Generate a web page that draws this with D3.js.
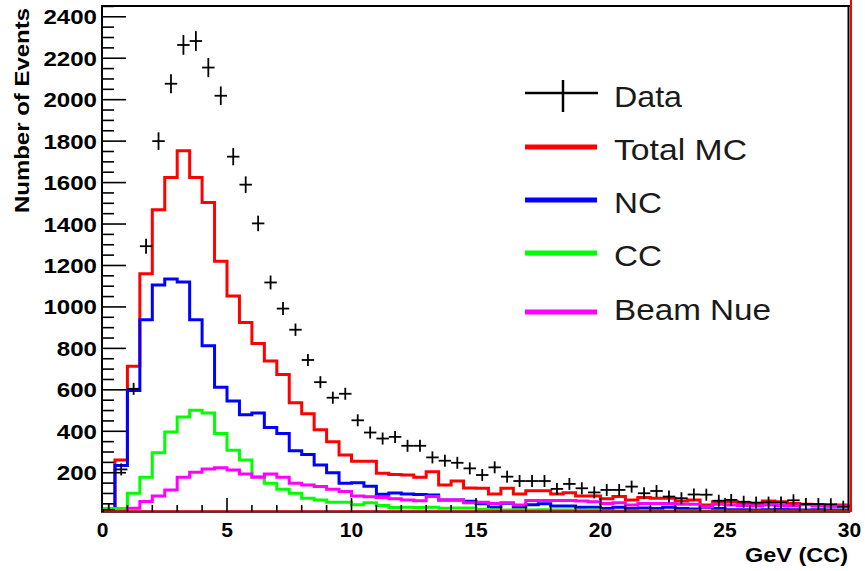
<!DOCTYPE html>
<html><head><meta charset="utf-8">
<script src="https://cdn.jsdelivr.net/npm/d3@7"></script>
<style>html,body{margin:0;padding:0;background:#fff;}svg{display:block;}</style>
</head><body>
<script>
// ---- data (60 bins of 0.5 GeV from 0 to 30) ----
const binWidth = 0.5;
const dataCounts = [20,216,605,1293,1800,2077,2264,2283,2155,2019,1725,1590,1403,1118,992,890,744,637,562,581,453,394,365,373,330,330,274,258,248,221,189,226,181,160,160,160,122,146,125,105,117,117,133,101,112,85,77,95,94,65,69,60,56,56,56,67,49,49,48,36];
const totalMC = [20,261,714,1160,1469,1624,1754,1624,1504,1221,1053,925,824,739,674,538,485,408,349,285,255,255,197,192,189,178,205,141,160,126,125,98,125,97,113,113,97,104,88,88,75,85,69,81,77,77,64,69,44,60,60,56,52,64,60,52,48,44,40,44];
const ncMC = [15,235,597,938,1106,1135,1120,938,813,613,546,480,488,418,389,306,288,237,200,149,152,135,96,102,98,95,93,69,69,62,50,34,53,34,45,50,40,40,33,33,28,33,28,30,28,33,28,25,33,28,22,22,20,22,24,22,20,22,20,20];
const ccMC = [28,28,101,178,296,397,469,501,488,389,309,261,181,149,120,101,77,69,58,58,45,55,42,32,34,32,33,29,30,30,24,21,20,22,20,21,20,20,19,20,15,15,15,15,15,15,15,15,15,15,14,14,14,14,14,14,14,14,14,14];
const beamNue = [12,12,29,61,88,117,178,202,218,224,213,194,178,194,178,149,141,133,120,109,88,84,80,74,69,65,85,69,69,55,58,52,55,44,66,66,66,66,64,60,52,55,44,52,52,52,48,48,36,48,44,42,40,44,42,40,46,40,38,40];
const yTickValues = [200,400,600,800,1000,1200,1400,1600,1800,2000,2200,2400];
const xTickValues = [0,5,10,15,20,25,30];
const legendLabels = ["Data","Total MC","NC","CC","Beam Nue"];

const W = 865, H = 571;
const svg = d3.select("body").append("svg").attr("width", W).attr("height", H);

const x = d3.scaleLinear().domain([0, 30]).range([102.5, 849.5]);
const y = d3.scaleLinear().domain([12, 2452]).range([511.7, 6]).clamp(true);

const FONT = "'Liberation Sans', Arial, Helvetica, sans-serif";

// clip
svg.append("defs").append("clipPath").attr("id","plot")
  .append("rect").attr("x",102).attr("y",6).attr("width",748).attr("height",506);

// ---- histograms ----
function stepPts(arr){
  const pts = arr.map((v,i)=>[i*binWidth, v]);
  pts.push([arr.length*binWidth, arr[arr.length-1]]);
  return pts;
}
const line = d3.line().x(d=>x(d[0])).y(d=>y(d[1])).curve(d3.curveStepAfter);
const series = [
  {vals: totalMC, color: "#ff0000"},
  {vals: ncMC, color: "#0000ff"},
  {vals: ccMC, color: "#00ff00"},
  {vals: beamNue, color: "#ff00ff"}
];
const g = svg.append("g").attr("clip-path","url(#plot)");
series.forEach(s=>{
  g.append("path").attr("d", line(stepPts(s.vals)))
    .attr("fill","none").attr("stroke", s.color).attr("stroke-width",3)
    .attr("stroke-linejoin","miter");
});

// ---- data crosses ----
const dg = g.append("g").attr("stroke","#000").attr("stroke-width",1.8);
dataCounts.forEach((v,i)=>{
  const c = (i+0.5)*binWidth;
  const cy = y(v), cx = x(c);
  const e = Math.sqrt(v);
  const top = Math.min(y(v+e), cy-6), bot = Math.max(y(v-e), cy+6);
  dg.append("line").attr("x1", x(c-binWidth/2)).attr("x2", x(c+binWidth/2)).attr("y1",cy).attr("y2",cy);
  dg.append("line").attr("x1", cx).attr("x2", cx).attr("y1", top).attr("y2", bot);
});

// ---- frame & axes ----
const ax = svg.append("g").attr("stroke","#000").attr("stroke-width",2);
ax.append("line").attr("x1",102).attr("x2",102).attr("y1",6).attr("y2",512);
ax.append("line").attr("x1",101).attr("x2",850).attr("y1",6).attr("y2",6);
ax.append("line").attr("x1",848.5).attr("x2",848.5).attr("y1",6).attr("y2",512);
ax.append("line").attr("x1",101).attr("x2",850).attr("y1",511.7).attr("y2",511.7);
svg.append("line").attr("x1",104).attr("x2",851).attr("y1",511.2).attr("y2",511.2)
  .attr("stroke","#d00000").attr("stroke-width",2);
svg.append("line").attr("x1",851).attr("x2",851).attr("y1",0).attr("y2",512)
  .attr("stroke","#ff0000").attr("stroke-width",2);

// y ticks (inside, pointing right)
const yt = svg.append("g").attr("stroke","#000").attr("stroke-width",1.6);
d3.range(50, 2451, 50).forEach(v=>{
  const major = v % 200 === 0;
  yt.append("line").attr("x1",102).attr("x2", major ? 126 : 114).attr("y1",y(v)).attr("y2",y(v));
});
// x ticks (inside, pointing up)
d3.range(1, 30, 1).forEach(v=>{
  const major = v % 5 === 0;
  yt.append("line").attr("x1",x(v)).attr("x2",x(v)).attr("y1",511.7).attr("y2", major ? 498 : 505);
});

// y tick labels
svg.append("g").selectAll("text").data(yTickValues).join("text")
  .attr("x",97).attr("y",d=>y(d)+7.5).attr("text-anchor","end")
  .attr("font-family",FONT).attr("font-weight","bold").attr("font-size",21)
  .attr("textLength",d=>String(d).length*13.4).attr("lengthAdjust","spacingAndGlyphs")
  .attr("fill","#000").text(d=>d);
// x tick labels
svg.append("g").selectAll("text").data(xTickValues).join("text")
  .attr("x",d=>x(d)).attr("y",537).attr("text-anchor","middle")
  .attr("font-family",FONT).attr("font-weight","bold").attr("font-size",21)
  .attr("fill","#000").text(d=>d);

// axis titles
svg.append("text").attr("transform","translate(29,213) rotate(-90)")
  .attr("font-family",FONT).attr("font-weight","bold").attr("font-size",21)
  .attr("textLength",205).attr("lengthAdjust","spacingAndGlyphs").attr("fill","#000")
  .text("Number of Events");
svg.append("text").attr("x",745).attr("y",562)
  .attr("font-family",FONT).attr("font-weight","bold").attr("font-size",21)
  .attr("textLength",103).attr("lengthAdjust","spacingAndGlyphs").attr("fill","#000")
  .text("GeV (CC)");

// ---- legend ----
const legColors = ["#000","#ff0000","#0000ff","#00ff00","#ff00ff"];
const legLineY = [93,147,200,253,312];
const legTextY = [107,160,213,266,320];
const legTextW = [68,133,48,48,157];
const lg = svg.append("g");
legendLabels.forEach((lab,i)=>{
  if(i===0){
    lg.append("line").attr("x1",525).attr("x2",598).attr("y1",legLineY[i]).attr("y2",legLineY[i])
      .attr("stroke","#000").attr("stroke-width",2.5);
    lg.append("line").attr("x1",563).attr("x2",563).attr("y1",80).attr("y2",112)
      .attr("stroke","#000").attr("stroke-width",2.5);
  } else {
    lg.append("line").attr("x1",525).attr("x2",597).attr("y1",legLineY[i]).attr("y2",legLineY[i])
      .attr("stroke",legColors[i]).attr("stroke-width",5);
  }
  lg.append("text").attr("x",614).attr("y",legTextY[i])
    .attr("font-family",FONT).attr("font-size",29).attr("fill","#1a1a1a")
    .attr("textLength",legTextW[i]).attr("lengthAdjust","spacingAndGlyphs")
    .text(lab);
});
</script>
</body></html>
